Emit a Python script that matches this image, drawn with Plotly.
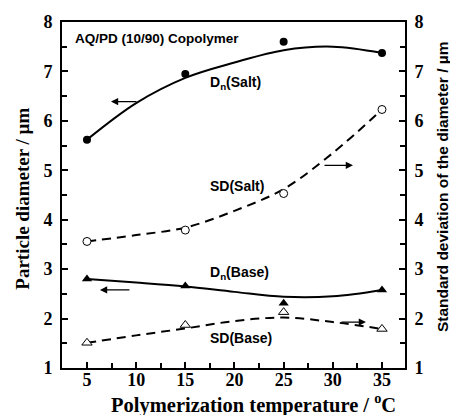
import plotly.graph_objects as go

# ---- data ----
temps = [5, 15, 25, 35]
dn_salt = [5.62, 6.95, 7.60, 7.375]
sd_salt = [3.56, 3.79, 4.53, 6.23]
dn_base = [2.80, 2.66, 2.31, 2.58]
sd_base = [1.51, 1.87, 2.13, 1.79]

# smooth guide curves as drawn in the picture (read at 5-degree steps)
curve_x = [5, 10, 15, 20, 25, 30, 35]
dn_salt_curve = [5.62, 6.36, 6.87, 7.18, 7.43, 7.50, 7.375]
sd_salt_curve = [3.56, 3.69, 3.84, 4.18, 4.62, 5.35, 6.23]
dn_base_curve = [2.80, 2.73, 2.65, 2.54, 2.44, 2.45, 2.58]
sd_base_curve = [1.51, 1.66, 1.80, 1.95, 2.02, 1.93, 1.79]

x_ticks = [5, 10, 15, 20, 25, 30, 35]
y_ticks = [1, 2, 3, 4, 5, 6, 7, 8]

X_RANGE = [2.46, 37.34]
Y_RANGE = [1, 8]

BLACK = "#000000"
DASH = "9px,6px"

fig = go.Figure()

# curves
fig.add_trace(go.Scatter(x=curve_x, y=dn_salt_curve, mode="lines",
                         line=dict(color=BLACK, width=2, shape="spline"), showlegend=False))
fig.add_trace(go.Scatter(x=curve_x, y=sd_salt_curve, mode="lines", yaxis="y2",
                         line=dict(color=BLACK, width=2, shape="spline", dash=DASH), showlegend=False))
fig.add_trace(go.Scatter(x=curve_x, y=dn_base_curve, mode="lines",
                         line=dict(color=BLACK, width=2, shape="spline"), showlegend=False))
fig.add_trace(go.Scatter(x=curve_x, y=sd_base_curve, mode="lines", yaxis="y2",
                         line=dict(color=BLACK, width=2, shape="spline", dash=DASH), showlegend=False))

# markers
fig.add_trace(go.Scatter(x=temps, y=dn_salt, mode="markers",
                         marker=dict(symbol="circle", size=8, color=BLACK), showlegend=False))
fig.add_trace(go.Scatter(x=temps, y=sd_salt, mode="markers", yaxis="y2",
                         marker=dict(symbol="circle", size=8, color="white",
                                     line=dict(color=BLACK, width=1)), showlegend=False))
fig.add_trace(go.Scatter(x=temps, y=dn_base, mode="markers",
                         marker=dict(symbol="triangle-up", size=9, color=BLACK), showlegend=False))
fig.add_trace(go.Scatter(x=temps, y=sd_base, mode="markers", yaxis="y2",
                         marker=dict(symbol="triangle-up", size=9, color="white",
                                     line=dict(color=BLACK, width=1)), showlegend=False))

SERIF = "Liberation Serif, Times New Roman, serif"
SANS = "Liberation Sans, Arial, sans-serif"
TICKFONT = dict(family=SERIF, size=18, color=BLACK, weight="bold")
LABELFONT = dict(family=SANS, size=14, color=BLACK)

axis_common = dict(
    showgrid=False, zeroline=False, showline=True, linecolor=BLACK, linewidth=2,
    ticks="inside", ticklen=6, tickwidth=1.5, tickcolor=BLACK, tickfont=TICKFONT,
)

fig.update_layout(
    width=450, height=415,
    margin=dict(l=62, r=45, t=20, b=47),
    paper_bgcolor="white", plot_bgcolor="white",
    xaxis=dict(range=X_RANGE, tickvals=x_ticks, ticktext=[str(v) for v in x_ticks],
               mirror=True, minor=dict(ticks="inside", ticklen=5, tickwidth=1.5,
                                       tickcolor=BLACK, dtick=2.5, tick0=2.5),
               ticklabelstandoff=-6, **axis_common),
    yaxis=dict(range=Y_RANGE, tickvals=y_ticks, ticktext=[str(v) for v in y_ticks],
               minor=dict(ticks="inside", ticklen=5, tickwidth=1.5, tickcolor=BLACK,
                          dtick=0.5, tick0=0.5),
               ticklabelstandoff=4, **axis_common),
    yaxis2=dict(range=Y_RANGE, tickvals=y_ticks, ticktext=[str(v) for v in y_ticks],
                overlaying="y", side="right",
                minor=dict(ticks="inside", ticklen=5, tickwidth=1.5, tickcolor=BLACK,
                           dtick=0.5, tick0=0.5),
                ticklabelstandoff=4, **axis_common),
)

annotations = []
# axis titles
annotations.append(dict(text="<b>Particle diameter / µm</b>", xref="paper", yref="paper",
                        x=-0.116, y=0.49, textangle=-90, showarrow=False,
                        xanchor="center", yanchor="middle",
                        font=dict(family=SERIF, size=19, color=BLACK)))
annotations.append(dict(text="<b>Standard deviation of the diameter / µm</b>", xref="paper", yref="paper",
                        x=1.108, y=0.523, textangle=-90, showarrow=False,
                        xanchor="center", yanchor="middle",
                        font=dict(family=SANS, size=15.5, color=BLACK)))
annotations.append(dict(text="<b>Polymerization temperature / <sup>o</sup>C</b>", xref="paper", yref="paper",
                        x=0.558, y=-0.103, showarrow=False, xanchor="center", yanchor="middle",
                        font=dict(family=SERIF, size=20.5, color=BLACK)))

# in-plot labels
annotations.append(dict(text="<b>AQ/PD (10/90) Copolymer</b>", x=3.58, y=7.66, xref="x", yref="y",
                        showarrow=False, xanchor="left", yanchor="middle",
                        font=dict(family=SANS, size=13.5, color=BLACK)))
for txt, xx, yy in [("<b>D<sub>n</sub>(Salt)</b>", 17.3, 6.76),
                    ("<b>SD(Salt)</b>", 17.3, 4.69),
                    ("<b>D<sub>n</sub>(Base)</b>", 17.3, 2.93),
                    ("<b>SD(Base)</b>", 17.3, 1.61)]:
    annotations.append(dict(text=txt, x=xx, y=yy, xref="x", yref="y", showarrow=False,
                            xanchor="left", yanchor="middle", font=LABELFONT))

# arrows (tail -> head)
for (tx, hx, yy) in [(10.19, 7.44, 6.39), (29.0, 32.05, 5.10), (9.47, 6.32, 2.58), (30.73, 33.37, 1.93)]:
    annotations.append(dict(x=hx, y=yy, ax=tx, ay=yy, xref="x", yref="y", axref="x", ayref="y",
                            showarrow=True, arrowhead=2, arrowsize=1.2, arrowwidth=1.2,
                            arrowcolor=BLACK, text=""))

fig.update_layout(annotations=annotations)

fig.write_html("out.html")
